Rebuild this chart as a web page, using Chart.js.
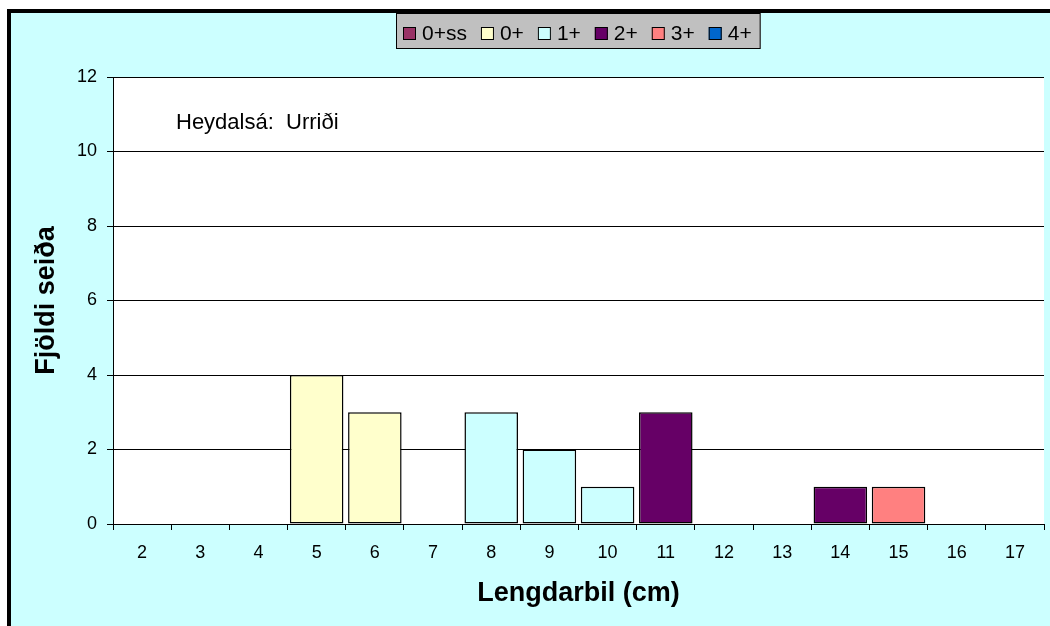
<!DOCTYPE html>
<html>
<head>
<meta charset="utf-8">
<script src="https://cdn.jsdelivr.net/npm/chart.js@4"></script>
<style>
  html, body { margin: 0; padding: 0; background: #ffffff; }
  #wrap { width: 1050px; height: 626px; }
</style>
</head>
<body>
<div id="wrap"><canvas id="c" width="1050" height="626"></canvas></div>
<script>
// Length classes (cm)
const categories = ['2','3','4','5','6','7','8','9','10','11','12','13','14','15','16','17'];

// Number of fish per length class, by age group
const age0ss = [0,0,0,0,0,0,0,0,0,0,0,0,0,0,0,0];
const age0   = [0,0,0,4,3,0,0,0,0,0,0,0,0,0,0,0];
const age1   = [0,0,0,0,0,0,3,2,1,0,0,0,0,0,0,0];
const age2   = [0,0,0,0,0,0,0,0,0,3,0,0,1,0,0,0];
const age3   = [0,0,0,0,0,0,0,0,0,0,0,0,0,1,0,0];
const age4   = [0,0,0,0,0,0,0,0,0,0,0,0,0,0,0,0];

const seriesLabels = ['0+ss','0+','1+','2+','3+','4+'];
const seriesColors = ['#993366','#ffffcc','#ccffff','#660066','#ff8080','#0066cc'];

const yTicks = { min: 0, max: 12, step: 2 };
const chartNote = 'Heydalsá:  Urriði';
const xTitle = 'Lengdarbil (cm)';
const yTitle = 'Fjöldi seiða';

const FONT = '"Liberation Sans", Arial, Helvetica, sans-serif';
Chart.defaults.color = '#000000';
Chart.defaults.font.family = FONT;

const seriesData = [age0ss, age0, age1, age2, age3, age4];

// Frame, plot-area fill, legend box and note
const decorations = {
  id: 'decorations',
  beforeDraw(chart) {
    const ctx = chart.ctx;
    const a = chart.chartArea;
    ctx.save();
    ctx.fillStyle = '#ffffff';
    ctx.fillRect(0, 0, chart.width, chart.height);
    ctx.fillStyle = '#ccffff';
    ctx.fillRect(7, 9, chart.width - 7, chart.height - 9);
    ctx.fillStyle = '#000000';
    ctx.fillRect(7, 9, chart.width - 7, 4);
    ctx.fillRect(7, 9, 4, chart.height - 9);
    ctx.fillStyle = '#ffffff';
    ctx.fillRect(a.left, a.top, a.right - a.left, a.bottom - a.top);
    ctx.restore();
  },
  afterDraw(chart) {
    const ctx = chart.ctx;
    const a = chart.chartArea;
    ctx.save();

    // legend
    ctx.font = '21px ' + FONT;
    const sw = 13, gapIn = 6, gapOut = 14, padL = 7, padR = 9;
    const widths = chart.data.datasets.map(d => ctx.measureText(d.label).width);
    let total = padL + padR;
    widths.forEach((w, i) => { total += sw + gapIn + w + (i < widths.length - 1 ? gapOut : 0); });
    const boxTop = 13, boxH = 36;
    const boxLeft = Math.round((a.left + a.right) / 2 - total / 2);
    ctx.fillStyle = '#c0c0c0';
    ctx.fillRect(boxLeft, boxTop, total, boxH);
    ctx.strokeStyle = '#000000';
    ctx.lineWidth = 1;
    ctx.strokeRect(boxLeft + 0.5, boxTop + 0.5, total - 1, boxH - 1);
    let x = boxLeft + padL;
    const baseline = 40;
    chart.data.datasets.forEach((d, i) => {
      ctx.fillStyle = d.backgroundColor;
      ctx.fillRect(x, 27, sw, sw);
      ctx.strokeStyle = '#000000';
      ctx.strokeRect(x + 0.5, 27.5, sw - 1, sw - 1);
      x += sw + gapIn;
      ctx.fillStyle = '#000000';
      ctx.textBaseline = 'alphabetic';
      ctx.textAlign = 'left';
      ctx.fillText(d.label, x, baseline);
      x += widths[i] + gapOut;
    });

    // note inside the plot
    ctx.font = '22px ' + FONT;
    ctx.fillStyle = '#000000';
    ctx.textBaseline = 'alphabetic';
    ctx.textAlign = 'left';
    ctx.fillText(chartNote, 176, 129);
    ctx.restore();
  }
};

new Chart(document.getElementById('c'), {
  type: 'bar',
  data: {
    labels: categories,
    datasets: seriesData.map((vals, i) => ({
      label: seriesLabels[i],
      data: vals,
      backgroundColor: seriesColors[i],
      borderColor: '#000000',
      borderWidth: 1.5,
      borderSkipped: false,
      barPercentage: 0.92,
      categoryPercentage: 1.0
    }))
  },
  options: {
    responsive: false,
    animation: false,
    devicePixelRatio: 1,
    layout: { padding: { top: 77, right: 6, bottom: 0, left: 0 } },
    plugins: {
      legend: { display: false },
      tooltip: { enabled: false },
      title: { display: false }
    },
    scales: {
      x: {
        stacked: true,
        grid: {
          offset: true,
          drawOnChartArea: false,
          drawTicks: true,
          tickLength: 6,
          tickColor: '#000000',
          color: '#000000'
        },
        border: { color: '#000000', width: 1 },
        ticks: { font: { size: 18 }, color: '#000000', padding: 12, maxRotation: 0 },
        title: {
          display: true,
          text: xTitle,
          font: { size: 27, weight: 'bold' },
          color: '#000000',
          padding: { top: 0, bottom: 16 }
        },
        afterFit(scale) { scale.height = 102; }
      },
      y: {
        stacked: true,
        min: yTicks.min,
        max: yTicks.max,
        grid: {
          color: '#000000',
          lineWidth: 1,
          drawTicks: true,
          tickLength: 6,
          tickColor: '#000000'
        },
        border: { color: '#000000', width: 1 },
        ticks: { stepSize: yTicks.step, font: { size: 18 }, color: '#000000', padding: 10 },
        title: {
          display: true,
          text: yTitle,
          font: { size: 27, weight: 'bold' },
          color: '#000000',
          padding: { top: 30, bottom: 0 }
        },
        afterFit(scale) { scale.width = 113; }
      }
    }
  },
  plugins: [decorations]
});
</script>
</body>
</html>
